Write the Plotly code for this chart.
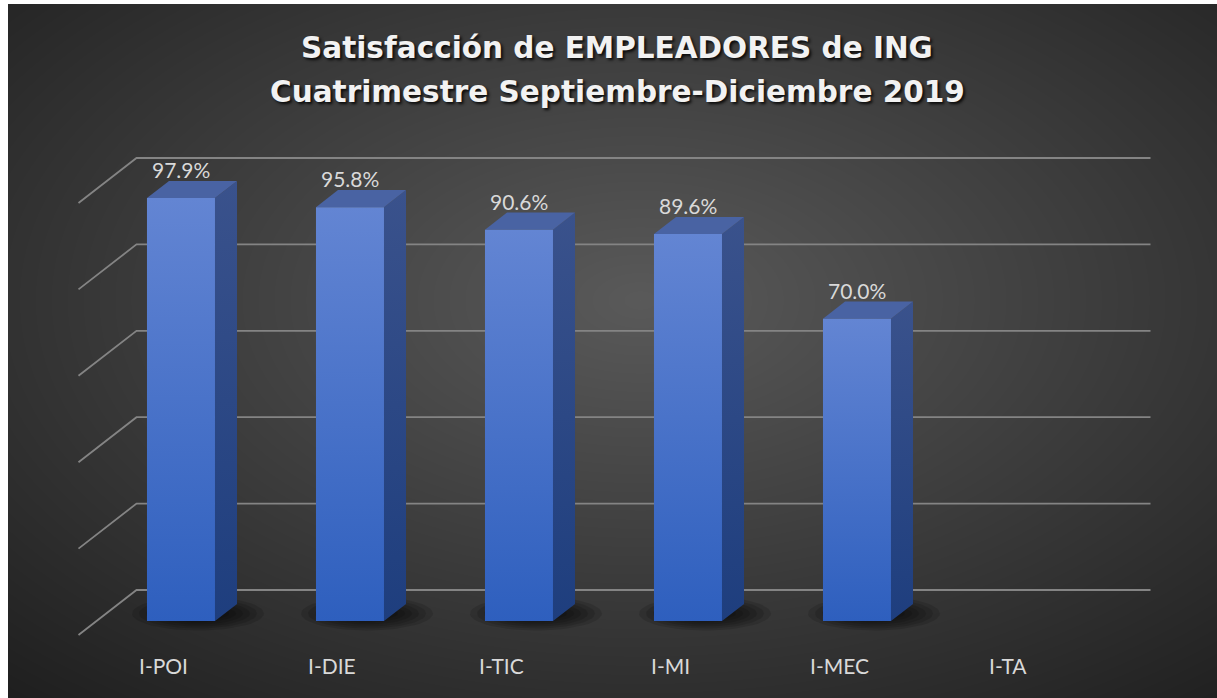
import base64
import struct
import zlib

import numpy as np
import plotly.graph_objects as go

# ---------------- data ----------------
categories = ["I-POI", "I-DIE", "I-TIC", "I-MI", "I-MEC", "I-TA"]
satisfaction = [97.9, 95.8, 90.6, 89.6, 70.0, None]
grid_values = [0, 20, 40, 60, 80, 100]
title_line1 = "Satisfacción de EMPLEADORES de ING"
title_line2 = "Cuatrimestre Septiembre-Diciembre 2019"

# ---------------- scale / 3-D projection ----------------
W, H = 1217, 698
PX0, PXS = 163.0, 169.0      # pixel of category 0, pixels per category
PY0, PYS = 635.0, 4.32       # pixel of value 0 (front floor edge), pixels per %
x_range = [(0 - PX0) / PXS, (W - PX0) / PXS]
y_range = [(PY0 - H) / PYS, PY0 / PYS]
DX = 58.0 / PXS              # full depth shift, x (category units)
DY = 45.0 / PYS              # full depth shift, y (% units)
TF, TB = 0.31, 0.69          # bar front / back depth
BW = 68.0 / PXS              # bar front width

GRID_COLOR = "rgb(132,132,132)"
LABEL_COLOR = "#d9d9d9"


# ---------------- radial background as PNG ----------------
def png_gray(arr):
    h, w = arr.shape
    raw = b"".join(b"\x00" + arr[r].tobytes() for r in range(h))

    def chunk(t, d):
        c = struct.pack(">I", len(d)) + t + d
        return c + struct.pack(">I", zlib.crc32(t + d) & 0xFFFFFFFF)

    ihdr = struct.pack(">IIBBBBB", w, h, 8, 0, 0, 0, 0)
    return (b"\x89PNG\r\n\x1a\n" + chunk(b"IHDR", ihdr)
            + chunk(b"IDAT", zlib.compress(raw, 9)) + chunk(b"IEND", b""))


bx0, by0 = 8, 4
bw, bh = W - bx0, H - by0
yy, xx = np.mgrid[0:bh, 0:bw].astype(float)
cx, cy = 640.0 - bx0, 300.0 - by0
u = (xx - cx) / (bw / 2)
v = (yy - cy) / (bh / 2)
r = np.sqrt(u * u + v * v)
col = np.clip(90 - 38 * r, 28, 100).astype(np.uint8)
bg_uri = "data:image/png;base64," + base64.b64encode(png_gray(col)).decode()

fig = go.Figure()

# ---------------- gridlines (back wall + left diagonal) ----------------
gx, gy = [], []
for g in grid_values:
    gx += [-0.5, -0.5 + DX, 5.5 + DX, None]
    gy += [g, g + DY, g + DY, None]
fig.add_trace(go.Scatter(x=gx, y=gy, mode="lines",
                         line=dict(color=GRID_COLOR, width=1.8),
                         hoverinfo="skip", showlegend=False))

# ---------------- shadows ----------------
theta = np.linspace(0, 2 * np.pi, 60)
for i, val in enumerate(satisfaction):
    if val is None:
        continue
    scx = i + 0.5 * DX + 6.0 / PXS
    scy = 0.5 * DY - 1.0 / PYS
    for k in range(6):
        rx = (66 - 7 * k) / PXS
        ry = (17 - 2 * k) / PYS
        fig.add_trace(go.Scatter(
            x=scx + rx * np.cos(theta), y=scy + ry * np.sin(theta),
            mode="lines", fill="toself", line=dict(width=0),
            fillcolor="rgba(0,0,0,0.13)", hoverinfo="skip", showlegend=False))

# ---------------- 3-D bars ----------------
dd = TB - TF
for i, val in enumerate(satisfaction):
    if val is None:
        continue
    x0 = i + TF * DX - BW / 2
    x1 = x0 + BW
    yb = TF * DY
    yt = val + TF * DY
    # side face
    fig.add_trace(go.Scatter(
        x=[x1, x1 + dd * DX, x1 + dd * DX, x1, x1],
        y=[yb, yb + dd * DY, yt + dd * DY, yt, yb],
        mode="lines", fill="toself", line=dict(width=0),
        fillgradient=dict(type="vertical",
                          colorscale=[[0, "rgb(30,62,126)"], [1, "rgb(58,82,140)"]]),
        hoverinfo="skip", showlegend=False))
    # top face
    fig.add_trace(go.Scatter(
        x=[x0, x1, x1 + dd * DX, x0 + dd * DX, x0],
        y=[yt, yt, yt + dd * DY, yt + dd * DY, yt],
        mode="lines", fill="toself", line=dict(width=0),
        fillcolor="rgb(73,99,163)", hoverinfo="skip", showlegend=False))
    # front face
    fig.add_trace(go.Scatter(
        x=[x0, x1, x1, x0, x0],
        y=[yb, yb, yt, yt, yb],
        mode="lines", fill="toself", line=dict(width=0),
        fillgradient=dict(type="vertical",
                          colorscale=[[0, "rgb(46,95,190)"], [1, "rgb(99,133,211)"]]),
        name=categories[i], hovertemplate=f"{categories[i]}: {val:.1f}%<extra></extra>",
        showlegend=False))
    # data label
    fig.add_annotation(x=i + TF * DX, y=val + TB * DY, text=f"{val:.1f}%",
                       showarrow=False, yanchor="bottom", yshift=-3,
                       font=dict(family="Lato", size=21, color=LABEL_COLOR))

# ---------------- category labels ----------------
for i, c in enumerate(categories):
    fig.add_annotation(x=i, y=0, text=c, showarrow=False, yanchor="middle",
                       yshift=-30, font=dict(family="Lato", size=21, color=LABEL_COLOR))

# ---------------- title ----------------
tfont = dict(family="DejaVu Sans", size=29.5, color="#f2f2f2", weight="bold",
             shadow="2px 2px 3px rgba(0,0,0,0.85)")
fig.add_annotation(xref="paper", yref="paper", x=617 / W, y=1 - 48 / H, text=title_line1,
                   showarrow=False, xanchor="center", yanchor="middle", font=tfont)
fig.add_annotation(xref="paper", yref="paper", x=617 / W, y=1 - 92 / H, text=title_line2,
                   showarrow=False, xanchor="center", yanchor="middle", font=tfont)

fig.add_layout_image(dict(source=bg_uri, xref="paper", yref="paper",
                          x=bx0 / W, y=1 - by0 / H, sizex=bw / W, sizey=bh / H,
                          xanchor="left", yanchor="top", sizing="stretch", layer="below"))

fig.update_layout(
    width=W, height=H, margin=dict(l=0, r=0, t=0, b=0),
    paper_bgcolor="white", plot_bgcolor="rgba(0,0,0,0)",
    xaxis=dict(range=x_range, visible=False, fixedrange=True),
    yaxis=dict(range=y_range, visible=False, fixedrange=True),
    showlegend=False,
)

fig.write_html("out.html", config={"displayModeBar": False},
               post_script="document.body.style.margin='0px';document.body.style.overflow='hidden';")
